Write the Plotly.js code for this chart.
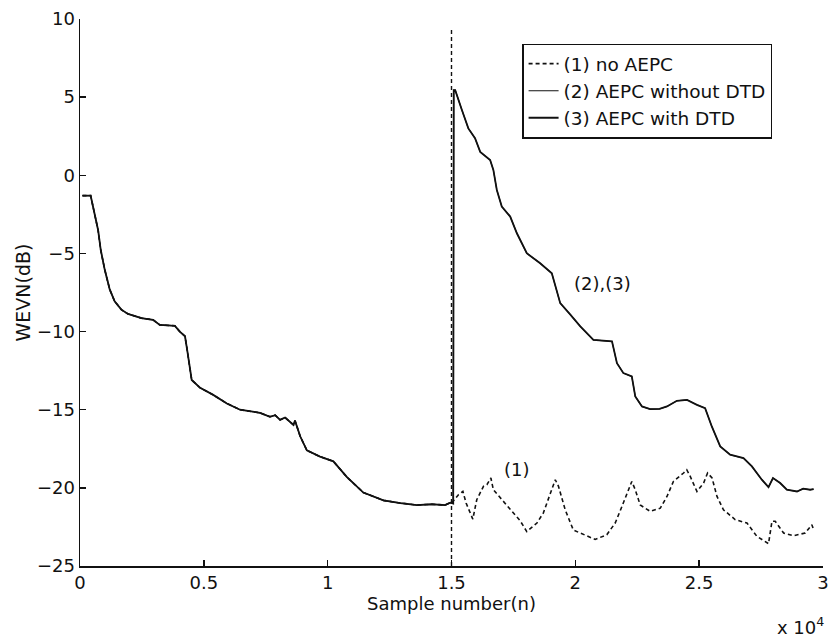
<!DOCTYPE html>
<html>
<head>
<meta charset="utf-8">
<script src="https://cdn.plot.ly/plotly-3.0.1.min.js"></script>
<style>html,body{margin:0;padding:0;background:#fff;}#chart{width:828px;height:639px;}</style>
</head>
<body>
<div id="chart"></div>
<script>
// Common curve (before echo path change) followed by AEPC curves (2),(3)
const xAEPC = [100,430,525,730,840,1000,1200,1400,1670,1940,2480,2950,3220,3830,4030,4240,4330,4410,4510,4850,5380,5930,6460,7270,7670,7880,8080,8280,8480,8620,8680,8890,9160,9690,10230,10770,11440,12250,12930,13600,14200,14740,14950,15070,15090,15150,15420,15680,15950,16160,16560,16690,16830,17030,17370,17640,18040,18580,19050,19250,19390,19790,20200,20730,21480,21680,21940,22280,22420,22690,23020,23400,23700,24100,24510,24910,25240,25510,25850,26250,26790,27130,27530,27800,27980,28270,28540,28950,29200,29480,29620];
const yAEPC = [-1.3,-1.3,-2.0,-3.5,-4.8,-6.05,-7.3,-8.07,-8.6,-8.87,-9.14,-9.25,-9.57,-9.63,-10.0,-10.3,-11.2,-12.2,-13.1,-13.6,-14.05,-14.6,-15.0,-15.2,-15.45,-15.35,-15.65,-15.5,-15.8,-15.97,-15.7,-16.7,-17.6,-18.0,-18.3,-19.3,-20.3,-20.8,-20.97,-21.1,-21.05,-21.1,-20.95,-21.0,5.45,5.45,4.18,3.0,2.37,1.5,0.98,0.34,-0.94,-2.0,-2.64,-3.71,-4.99,-5.63,-6.27,-7.33,-8.18,-8.9,-9.67,-10.53,-10.63,-12.02,-12.66,-12.87,-14.15,-14.79,-14.96,-14.95,-14.79,-14.43,-14.37,-14.69,-14.9,-16.07,-17.35,-17.88,-18.1,-18.63,-19.48,-19.95,-19.37,-19.69,-20.12,-20.23,-20.05,-20.12,-20.08];

// No AEPC curve (1) after the echo path change (before it, identical to the common curve)
const xNoAEPCTail = [15010,15280,15460,15590,15750,15860,16020,16290,16430,16590,16690,17770,18040,18450,18710,18980,19190,19320,19590,19920,20330,20800,21270,21610,21880,22150,22280,22420,22620,23020,23430,23700,23960,24370,24500,24640,24910,25180,25340,25520,25720,25980,26460,26930,27330,27800,27940,28070,28410,28810,29280,29550,29620];
const yNoAEPCTail = [-20.97,-20.44,-20.23,-20.97,-21.6,-22.0,-20.76,-19.9,-19.8,-19.37,-20.12,-22.1,-22.8,-22.25,-21.6,-20.33,-19.48,-19.9,-21.4,-22.7,-23.0,-23.3,-23.0,-22.25,-21.2,-20.12,-19.59,-20.12,-21.1,-21.5,-21.3,-20.55,-19.59,-19.05,-18.84,-19.27,-20.23,-19.69,-19.05,-19.37,-20.55,-21.4,-22.04,-22.25,-23.1,-23.57,-22.14,-22.14,-22.89,-23.06,-22.89,-22.36,-22.68];

const changeX = [15000, 15000];
const changeY = [-25, 9.4];

const tickVals = [0,5000,10000,15000,20000,25000,30000];
const tickText = ['0','0.5','1','1.5','2','2.5','3'];
const seriesNames = ['(1) no AEPC','(2) AEPC without DTD','(3) AEPC with DTD'];

// build curve (1) = common part up to the change + its own tail
const idxChange = xAEPC.findIndex(v => v >= 15000);
const x1 = xAEPC.slice(0, idxChange).concat(xNoAEPCTail);
const y1 = yAEPC.slice(0, idxChange).concat(yNoAEPCTail);

const FONT = 'DejaVu Sans, Verdana, sans-serif';
const traces = [
  {x: x1, y: y1, mode: 'lines', name: seriesNames[0],
   line: {color: '#111', width: 1.6, dash: '4px,3px'}},
  {x: xAEPC, y: yAEPC, mode: 'lines', name: seriesNames[1],
   line: {color: '#111', width: 1.1}},
  {x: xAEPC, y: yAEPC, mode: 'lines', name: seriesNames[2],
   line: {color: '#111', width: 1.8}},
  {x: changeX, y: changeY, mode: 'lines', showlegend: false, hoverinfo: 'skip',
   line: {color: '#111', width: 1.4, dash: '4px,3px'}}
];

const layout = {
  width: 828, height: 639,
  margin: {l: 80, r: 5, t: 19, b: 73},
  paper_bgcolor: '#fff', plot_bgcolor: '#fff',
  font: {family: FONT, size: 18, color: '#111'},
  showlegend: true,
  legend: {x: 0.595, y: 0.955, xanchor: 'left', yanchor: 'top',
           bgcolor: '#fff', bordercolor: '#111', borderwidth: 1.5,
           font: {family: FONT, size: 18.5, color: '#111'},
           itemwidth: 30, tracegroupgap: 0},
  xaxis: {range: [0, 30000], tickvals: tickVals, ticktext: tickText,
          showline: true, linecolor: '#111', linewidth: 1.5,
          ticks: 'inside', ticklen: 6, tickwidth: 1.5, tickcolor: '#111',
          ticklabeloverflow: 'allow',
          showgrid: false, zeroline: false,
          tickfont: {family: FONT, size: 18, color: '#111'},
          title: {text: 'Sample number(n)', font: {family: FONT, size: 18, color: '#111'}, standoff: 4}},
  yaxis: {range: [-25, 10], tickvals: [-25,-20,-15,-10,-5,0,5,10],
          showline: true, linecolor: '#111', linewidth: 1.5,
          ticks: 'inside', ticklen: 6, tickwidth: 1.5, tickcolor: '#111',
          ticklabeloverflow: 'allow',
          showgrid: false, zeroline: false,
          tickfont: {family: FONT, size: 18, color: '#111'},
          title: {text: 'WEVN(dB)', font: {family: FONT, size: 19, color: '#111'}, standoff: 1}},
  annotations: [
    {x: 21080, y: -6.9, xref: 'x', yref: 'y', text: '(2),(3)', showarrow: false,
     font: {family: FONT, size: 18, color: '#111'}},
    {x: 17650, y: -18.8, xref: 'x', yref: 'y', text: '(1)', showarrow: false,
     font: {family: FONT, size: 18, color: '#111'}},
    {x: 1.004, y: -0.135, xref: 'paper', yref: 'paper', xanchor: 'right', text: 'x 10<sup>4</sup>', showarrow: false,
     font: {family: FONT, size: 18, color: '#111'}}
  ]
};

Plotly.newPlot('chart', traces, layout, {displayModeBar: false, staticPlot: true});
</script>
</body>
</html>
